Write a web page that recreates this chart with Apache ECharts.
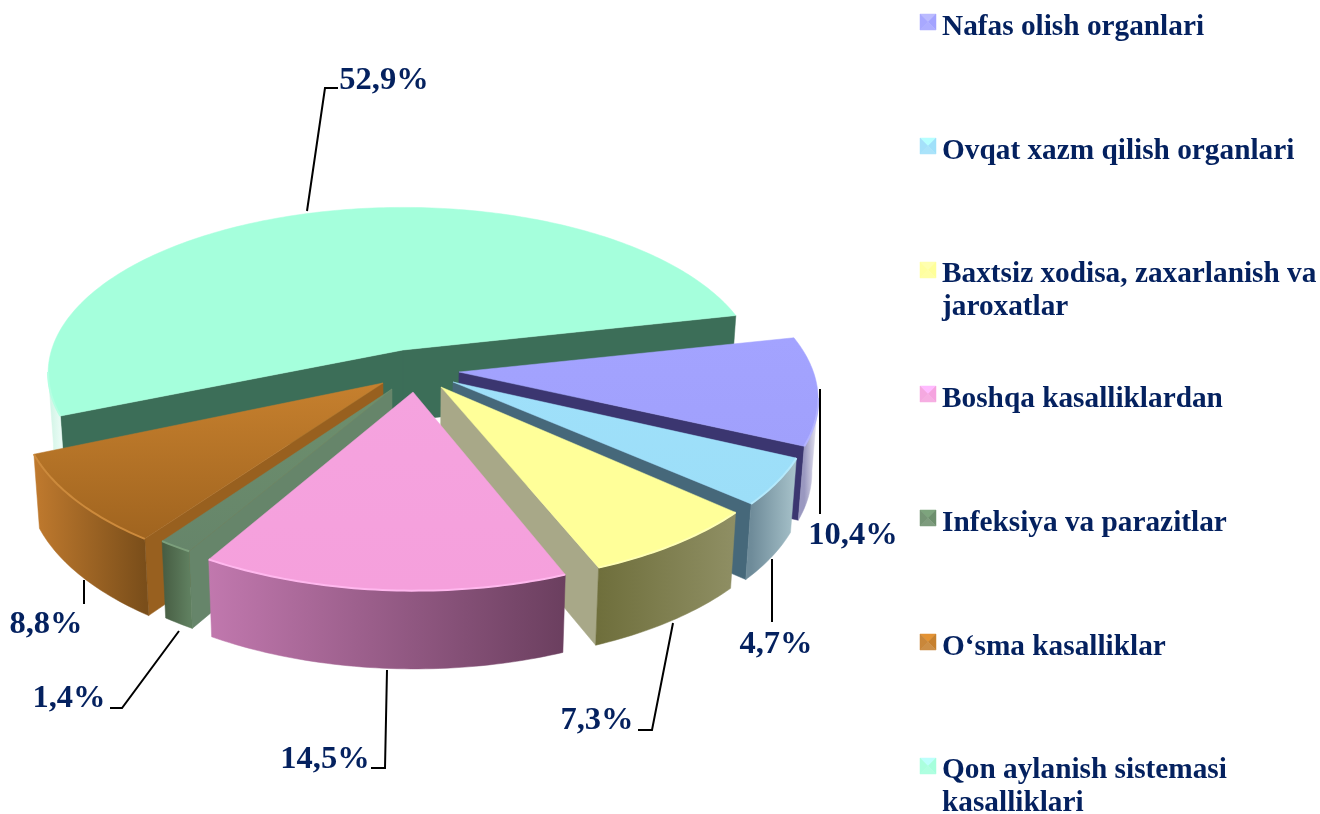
<!DOCTYPE html>
<html>
<head>
<meta charset="utf-8">
<style>
  html, body { margin: 0; padding: 0; background: #fff; }
  #chart { width: 1320px; height: 814px; }
</style>
<script src="https://cdn.jsdelivr.net/npm/echarts@6/dist/echarts.min.js"></script>
</head>
<body>
<div id="chart"></div>
<script>
const categories = [
  'Nafas olish organlari',
  'Ovqat xazm qilish organlari',
  'Baxtsiz xodisa, zaxarlanish va\njaroxatlar',
  'Boshqa kasalliklardan',
  'Infeksiya va parazitlar',
  'O‘sma kasalliklar',
  'Qon aylanish sistemasi\nkasalliklari'
];
const shares = [10.4, 4.7, 7.3, 14.5, 1.4, 8.8, 52.9];
const shareLabels = ['10,4%', '4,7%', '7,3%', '14,5%', '1,4%', '8,8%', '52,9%'];

// look of each slice, same order as categories
const TOP_COLORS = ['#a3a3ff', '#9fe0fa', '#ffff99', '#f5a3df', '#6d8f6d', '#c6802e', '#a5ffdc'];
const TOP_END = ['#a0a0fc', '#9cdef8', '#ffff99', '#f5a0dc', '#66856a', '#a0641f', '#a5ffdc'];
const EDGE_COLORS = ['#b4b4ff', '#b4e9fc', '#ffffb4', '#ffb8ee', '#7c9f7c', '#cc8a3c', '#b4ffe2'];
const CUT_COLORS = ['#3b3670', '#46687a', '#a8a888', '#6b3f5f', '#66856a', '#98601f', '#3c6e58'];
const WALL_LEFT = ['#9a98c0', '#6e8b99', '#6f6f3c', '#c178ae', '#465c42', '#c07a2e', '#cdf3e3'];
const WALL_RIGHT = ['#eeedf6', '#a8c3cb', '#8f8f64', '#6b3f5f', '#5f7f5f', '#7a4e1a', '#e8fbf4'];
const DRAW_ORDER = [2, 3, 4, 7, 6, 5, 1];

// layout in pixels
const CX = 403, CY = 350, RX = 355, RY = 164, PERSP = 0.14, DEPTH = 71;
const TIPS = [[459, 372], [453, 382], [441, 387], [413, 392], [392, 389], [383, 383], [403, 350]];
const RADIUS_SCALE = [0.98, 0.97, 0.97, 0.97, 0.95, 0.98, 0.99];
const LABEL_POS = [[384, 81], [853, 536], [776, 645], [597, 721], [325, 760], [69, 699], [46, 625]];
const LABEL_ORDER = [1, 2, 3, 4, 5, 6, 0];
const LEADERS = [
  [[820, 389], [820, 514]],
  [[772, 559], [772, 622]],
  [[673, 623], [652, 730], [638, 730]],
  [[387, 670], [385, 768], [371, 768]],
  [[179, 631], [122, 708], [110, 708]],
  [[84, 580], [84, 604]],
  [[307, 211], [325, 88], [338, 88]]
];
const LEGEND_Y = [27, 151, 291, 399, 523, 647, 787];
const SWATCH_Y = [22, 146, 270, 394, 518, 642, 766];
const FIRST_ANGLE = 347.8;
const TEXT_COLOR = '#04215f';
const FONT = '"Liberation Serif", serif';

function project(u, v) {
  const s = 1 / (1 - PERSP * v);
  return [CX + RX * u * s, CY + RY * v * s, s];
}

function drop(p) {
  return [CX + (p[0] - CX) * 0.985, p[1] + DEPTH * (1 + (p[2] - 1) * 0.5)];
}

function unproject(x, y) {
  const dy = y - CY;
  const v = dy / (RY + PERSP * dy);
  return [(x - CX) * (1 - PERSP * v) / RX, v];
}

function sliceAngles(idx) {
  let start = FIRST_ANGLE;
  for (let i = 0; i < idx; i++) start += shares[i] * 3.6;
  return [start, start + shares[idx] * 3.6];
}

function wallPolygon(pts) {
  return pts.concat(pts.map(drop).reverse());
}

function poly(points, fill) {
  return { type: 'polygon', shape: { points }, style: { fill, stroke: fill, lineWidth: 0.5 } };
}

function renderSlice(idx) {
  const [a0, a1] = sliceAngles(idx);
  const off = unproject(TIPS[idx][0], TIPS[idx][1]);
  const tip = project(off[0], off[1]);
  const scale = RADIUS_SCALE[idx];
  const arc = [];
  for (let a = a0; a <= a1 + 0.001; a += 1) {
    const r = a * Math.PI / 180;
    arc.push(project(Math.cos(r) * scale + off[0], Math.sin(r) * scale + off[1]));
  }
  const last = arc[arc.length - 1];
  const first = arc[0];
  const children = [];

  // cut faces, only those turned to the viewer
  if (first[0] < tip[0]) children.push(poly(wallPolygon([tip, first]), CUT_COLORS[idx]));
  if (tip[0] < last[0]) children.push(poly(wallPolygon([last, tip]), CUT_COLORS[idx]));

  // rim: the run of arc going right to left
  const rim = [];
  arc.forEach((p, i) => {
    if ((i > 0 && p[0] < arc[i - 1][0]) || (i < arc.length - 1 && arc[i + 1][0] < p[0])) rim.push(p);
  });
  if (rim.length > 1) {
    const xs = rim.map(p => p[0]);
    children.push(poly(wallPolygon(rim), new echarts.graphic.LinearGradient(
      Math.min(...xs), 0, Math.max(...xs), 0,
      [{ offset: 0, color: WALL_LEFT[idx] }, { offset: 1, color: WALL_RIGHT[idx] }],
      true
    )));
  }

  // top face and its lit edge
  const topPts = [tip].concat(arc);
  const ys = topPts.map(p => p[1]);
  children.push(poly(topPts, new echarts.graphic.LinearGradient(
    0, Math.min(...ys), 0, Math.max(...ys),
    [{ offset: 0, color: TOP_COLORS[idx] }, { offset: 1, color: TOP_END[idx] }],
    true
  )));
  children.push({
    type: 'polyline',
    shape: { points: rim.length > 1 ? rim : arc },
    style: { fill: null, stroke: EDGE_COLORS[idx], lineWidth: 2 }
  });

  // leader and value label
  children.push({
    type: 'polyline',
    shape: { points: LEADERS[idx] },
    style: { fill: null, stroke: '#000', lineWidth: 2 }
  });
  const pos = LABEL_POS[LABEL_ORDER[idx]];
  children.push({
    type: 'text',
    style: {
      x: pos[0], y: pos[1],
      text: shareLabels[idx],
      align: 'center', verticalAlign: 'middle',
      font: 'bold 32.5px ' + FONT,
      fill: TEXT_COLOR
    }
  });

  // bevelled legend swatch
  const x0 = 920, x1 = 936, y0 = SWATCH_Y[idx] - 8, y1 = SWATCH_Y[idx] + 8;
  const mx = 928, my = SWATCH_Y[idx];
  const base = TOP_COLORS[idx];
  [
    [[x0, y0], [x1, y0], [mx, my], echarts.color.lift(base, -0.15)],
    [[x1, y0], [x1, y1], [mx, my], base],
    [[x1, y1], [x0, y1], [mx, my], echarts.color.lift(base, 0.12)],
    [[x0, y1], [x0, y0], [mx, my], echarts.color.lift(base, 0.06)]
  ].forEach(t => children.push(poly(t.slice(0, 3), t[3])));

  return { type: 'group', children };
}

const chart = echarts.init(document.getElementById('chart'), null, { renderer: 'canvas' });

chart.setOption({
  animation: false,
  backgroundColor: '#fff',
  legend: categories.map((name, i) => ({
    data: [name],
    left: 920,
    top: LEGEND_Y[i] - (name.indexOf('\n') >= 0 ? 33 : 16.5),
    padding: 0,
    itemWidth: 16,
    itemHeight: 16,
    itemGap: 0,
    icon: 'rect',
    selectedMode: false,
    itemStyle: { opacity: 0 },
    textStyle: {
      fontFamily: FONT,
      fontWeight: 'bold',
      fontSize: 29.3,
      lineHeight: 33,
      color: TEXT_COLOR,
      padding: [0, 0, 0, 1]
    }
  })),
  series: categories.map((name, i) => ({
    type: 'custom',
    name,
    coordinateSystem: 'none',
    z: DRAW_ORDER[i],
    silent: true,
    data: [[shares[i]]],
    renderItem: () => renderSlice(i)
  }))
});
</script>
</body>
</html>
